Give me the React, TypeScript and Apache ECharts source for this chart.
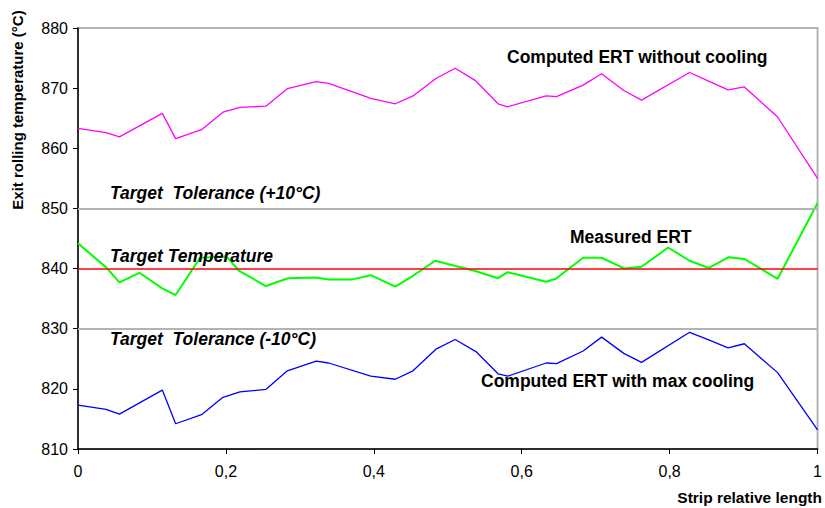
import React, { useEffect, useRef } from "react";
import * as echarts from "echarts";

// Strip relative length positions for the computed curves
const computedX = [
  0, 0.038, 0.056, 0.114, 0.132, 0.167, 0.196, 0.219, 0.254, 0.283, 0.322, 0.339,
  0.396, 0.429, 0.453, 0.484, 0.51, 0.538, 0.568, 0.581, 0.633, 0.647, 0.683,
  0.708, 0.738, 0.762, 0.827, 0.852, 0.879, 0.901, 0.946, 1.0,
];
const ertWithoutCooling = [
  863.3, 862.6, 861.9, 865.8, 861.6, 863.1, 866.0, 866.8, 867.0, 869.9, 871.1, 870.8,
  868.3, 867.4, 868.7, 871.6, 873.3, 871.2, 867.4, 866.9, 868.7, 868.6, 870.5,
  872.4, 869.6, 868.0, 872.6, 871.2, 869.7, 870.2, 865.2, 855.0,
];
const ertMaxCooling = [
  817.3, 816.6, 815.8, 819.8, 814.2, 815.7, 818.6, 819.5, 819.9, 823.0, 824.6, 824.3,
  822.1, 821.6, 823.0, 826.6, 828.2, 826.2, 822.5, 822.1, 824.3, 824.2, 826.3,
  828.6, 825.9, 824.4, 829.4, 828.2, 826.8, 827.5, 822.7, 813.2,
];
// Measured curve positions and values
const measuredX = [
  0, 0.038, 0.056, 0.083, 0.114, 0.132, 0.165, 0.201, 0.218, 0.254, 0.284, 0.322,
  0.339, 0.371, 0.396, 0.429, 0.453, 0.483, 0.537, 0.568, 0.581, 0.633, 0.646,
  0.683, 0.708, 0.739, 0.762, 0.798, 0.827, 0.853, 0.88, 0.901, 0.946, 1.0,
];
const measuredErt = [
  844.2, 840.2, 837.7, 839.3, 836.7, 835.6, 841.8, 842.0, 839.6, 837.1, 838.4, 838.5,
  838.2, 838.2, 838.9, 837.0, 838.8, 841.3, 839.6, 838.4, 839.4, 837.8, 838.3,
  841.8, 841.8, 840.0, 840.3, 843.5, 841.3, 840.1, 841.9, 841.6, 838.3, 850.9,
];
const targetTemperature = 840;
const toleranceUpper = 850;
const toleranceLower = 830;
const yTicks = { min: 810, max: 880, interval: 10 };
const xTicks = { min: 0, max: 1, interval: 0.2 };

const zip = (xs: number[], ys: number[]) => xs.map((x, i) => [x, ys[i]]);

const FONT = "'Liberation Sans', Arial, sans-serif";

export default function App() {
  const ref = useRef<HTMLDivElement>(null);
  useEffect(() => {
    if (!ref.current) return;
    const chart = echarts.init(ref.current, undefined, { renderer: "svg" });
    const label = (text: string, x: number, y: number, italic = false, align = "left") => ({
      type: "text",
      x,
      y,
      z: 100,
      style: {
        text,
        fill: "#000",
        font: `${italic ? "italic " : ""}bold 17.5px ${FONT}`,
        textAlign: align,
        textVerticalAlign: "middle",
      },
    });
    chart.setOption({
      animation: false,
      backgroundColor: "#fff",
      grid: {
        left: 78,
        right: 6,
        top: 28,
        bottom: 59,
        show: true,
        borderColor: "#b3b3b3",
        borderWidth: 2,
      },
      xAxis: {
        type: "value",
        min: xTicks.min,
        max: xTicks.max,
        interval: xTicks.interval,
        axisLine: { lineStyle: { color: "#000", width: 1.5 } },
        axisTick: { show: true, length: 5, lineStyle: { color: "#000" } },
        splitLine: { show: false },
        axisLabel: {
          color: "#000",
          fontSize: 16,
          fontFamily: FONT,
          margin: 14,
          formatter: (v: number) => String(+v.toFixed(1)).replace(".", ","),
        },
      },
      yAxis: {
        type: "value",
        min: yTicks.min,
        max: yTicks.max,
        interval: yTicks.interval,
        axisLine: { show: true, lineStyle: { color: "#000", width: 1.5 } },
        axisTick: { show: true, length: 5, lineStyle: { color: "#000" } },
        splitLine: { show: false },
        axisLabel: { color: "#000", fontSize: 16, fontFamily: FONT, margin: 10 },
      },
      series: [
        {
          type: "line",
          data: [],
          z: 1,
          markLine: {
            silent: true,
            symbol: "none",
            label: { show: false },
            data: [
              { yAxis: toleranceUpper, lineStyle: { color: "#b3b3b3", width: 2, type: "solid" } },
              { yAxis: toleranceLower, lineStyle: { color: "#b3b3b3", width: 2, type: "solid" } },
              { yAxis: targetTemperature, lineStyle: { color: "#ff0000", width: 1.5, type: "solid" } },
            ],
          },
        },
        {
          type: "line",
          name: "Computed ERT without cooling",
          data: zip(computedX, ertWithoutCooling),
          symbol: "none",
          z: 3,
          lineStyle: { color: "#ff00ff", width: 1.3 },
        },
        {
          type: "line",
          name: "Computed ERT with max cooling",
          data: zip(computedX, ertMaxCooling),
          symbol: "none",
          z: 3,
          lineStyle: { color: "#0000ff", width: 1.3 },
        },
        {
          type: "line",
          name: "Measured ERT",
          data: zip(measuredX, measuredErt),
          symbol: "none",
          z: 4,
          lineStyle: { color: "#00ff00", width: 2 },
        },
      ],
      graphic: [
        label("Computed ERT without cooling", 507, 57),
        label("Measured ERT", 570, 237),
        label("Computed ERT with max cooling", 481, 381),
        label("Target  Tolerance (+10°C)", 110, 193, true),
        label("Target Temperature", 110, 256, true),
        label("Target  Tolerance (-10°C)", 110, 339, true),
        {
          type: "text",
          x: 822,
          y: 497,
          style: {
            text: "Strip relative length",
            fill: "#000",
            font: `bold 15.5px ${FONT}`,
            textAlign: "right",
            textVerticalAlign: "middle",
          },
        },
        {
          type: "text",
          x: 17,
          y: 110,
          rotation: Math.PI / 2,
          style: {
            text: "Exit rolling temperature (°C)",
            fill: "#000",
            font: `bold 15px ${FONT}`,
            textAlign: "center",
            textVerticalAlign: "middle",
          },
        },
      ],
    });
    return () => chart.dispose();
  }, []);
  return (
    <div
      ref={ref}
      style={{ position: "absolute", left: 0, top: 0, width: 825, height: 508 }}
    />
  );
}
